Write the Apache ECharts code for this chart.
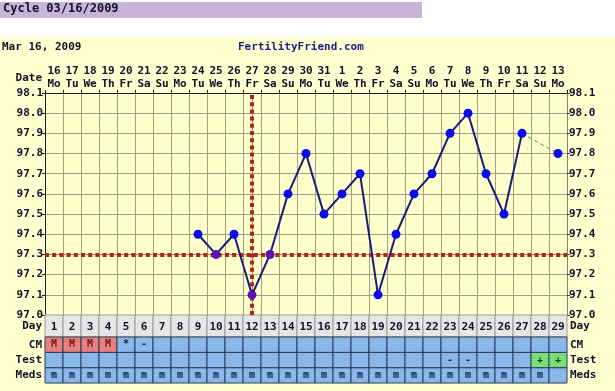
<!DOCTYPE html>
<html><head><meta charset="utf-8">
<script src="https://cdn.jsdelivr.net/npm/echarts@6/dist/echarts.min.js"></script>
<style>html,body{margin:0;padding:0;background:#fff}#c{width:615px;height:391px}</style>
</head><body><div id="c"></div>
<script>
const dayNums = ['1','2','3','4','5','6','7','8','9','10','11','12','13','14','15','16','17','18','19','20','21','22','23','24','25','26','27','28','29'];
const dates = ['16','17','18','19','20','21','22','23','24','25','26','27','28','29','30','31','1','2','3','4','5','6','7','8','9','10','11','12','13'];
const weekdays = ['Mo','Tu','We','Th','Fr','Sa','Su','Mo','Tu','We','Th','Fr','Sa','Su','Mo','Tu','We','Th','Fr','Sa','Su','Mo','Tu','We','Th','Fr','Sa','Su','Mo'];
const temps = [null,null,null,null,null,null,null,null,97.4,97.3,97.4,97.1,97.3,97.6,97.8,97.5,97.6,97.7,97.1,97.4,97.6,97.7,97.9,98.0,97.7,97.5,97.9,null,97.8];
const yTicks = ['97.0','97.1','97.2','97.3','97.4','97.5','97.6','97.7','97.8','97.9','98.0','98.1'];
const coverline = 97.3;
const ovulationDay = 12;
const cm   = ['M','M','M','M','*','-','','','','','','','','','','','','','','','','','','','','','','',''];
const test = ['','','','','','','','','','','','','','','','','','','','','','','-','-','','','','+','+'];
const meds = ['m','m','m','m','m','m','m','m','m','m','m','m','m','m','m','m','m','m','m','m','m','m','m','m','m','m','m','m',''];
const rowNames = ['Meds','Test','CM'];

const FONT = '"DejaVu Sans Mono", monospace';
const TXT = '#101028';

const mainData = temps.map((v, i) => {
  if (v === null) return null;
  const onLine = Math.abs(v - coverline) < 1e-6 || (i + 1) === ovulationDay;
  return { value: v, itemStyle: { color: onLine ? '#5a14b4' : '#0a0ae8' } };
});
let lastIdx = temps.length - 1, prevIdx = lastIdx - 1;
while (prevIdx >= 0 && temps[prevIdx] === null) prevIdx--;
const dashData = temps.map((v, i) => (i === lastIdx || i === prevIdx) ? v : null);
const solidData = mainData.map((d, i) => i === lastIdx ? null : d);
const lonePoint = temps.map((v, i) => i === lastIdx ? { value: v, itemStyle: { color: '#0a0ae8' } } : null);

const tableData = [];
const rows = [meds, test, cm];
rows.forEach((r, y) => r.forEach((t, x) => tableData.push([x, y, t])));
const dayData = dayNums.map((d, x) => [x, 0, d]);

function cellColor(y, t) {
  if (y === 2 && t === 'M') return '#e88080';
  if (y === 1 && t === '+') return '#78e078';
  return '#8ab8e8';
}
function textColor(y, t) {
  if (y === 2 && t === 'M') return '#701010';
  if (y === 1 && t === '+') return '#104010';
  return '#102050';
}

const thinRed = { color: '#e07060', width: 1, type: 'solid' };
const dotRed = { color: '#a8281c', width: 4, type: [4, 3.2] };

const axisLbl = { color: TXT, fontSize: 11, fontFamily: FONT, fontWeight: 'bold' };
const chart = echarts.init(document.getElementById('c'), null, { renderer: 'canvas' });
chart.setOption({
  backgroundColor: '#ffffff',
  animation: false,
  textStyle: { fontFamily: FONT, fontWeight: 'bold' },
  graphic: [
    { type: 'rect', z: -10, shape: { x: 0, y: 37, width: 615, height: 354 }, style: { fill: '#ffffd0' } },
    { type: 'rect', z: -10, shape: { x: 0, y: 2, width: 422, height: 16 }, style: { fill: '#c8b4d6' } },
    { type: 'text', left: 3, top: 3, style: { text: 'Cycle 03/16/2009', font: 'bold 12px ' + FONT, fill: '#101028' } },
    { type: 'text', left: 2, top: 42, style: { text: 'Mar 16, 2009', font: 'bold 11px ' + FONT, fill: TXT } },
    { type: 'text', left: 238, top: 42, style: { text: 'FertilityFriend.com', font: 'bold 11px ' + FONT, fill: '#1c1c8c' } },
    { type: 'text', x: 42, y: 78, style: { text: 'Date', font: 'bold 11px ' + FONT, fill: TXT, align: 'right', verticalAlign: 'middle' } }
  ],
  grid: [
    { left: 45, top: 93, width: 522, height: 222, show: true, backgroundColor: '#ffffcc', borderWidth: 0 },
    { left: 45, top: 315, width: 522, height: 22 },
    { left: 45, top: 337, width: 522, height: 46 }
  ],
  xAxis: [
    { gridIndex: 0, type: 'category', data: dayNums, position: 'top', boundaryGap: true,
      axisLine: { show: true, lineStyle: { color: '#202020' } },
      axisTick: { show: true, length: 3, lineStyle: { color: '#202020' } },
      splitLine: { show: true, lineStyle: { color: '#a0a088', width: 1 } },
      axisLabel: Object.assign({ interval: 0, margin: 2, lineHeight: 13, formatter: (v, i) => dates[i] + '\n' + weekdays[i] }, axisLbl) },
    { gridIndex: 1, type: 'category', data: dayNums, boundaryGap: true, show: false },
    { gridIndex: 2, type: 'category', data: dayNums, boundaryGap: true, show: false }
  ],
  yAxis: [
    { gridIndex: 0, type: 'value', min: 97.0, max: 98.1, interval: 0.1, position: 'left',
      axisLine: { show: true, lineStyle: { color: '#202020' } },
      axisTick: { show: true, length: 3, lineStyle: { color: '#202020' } },
      splitLine: { show: true, lineStyle: { color: '#a0a088', width: 1 } },
      axisLabel: Object.assign({ margin: 2, formatter: (v) => yTicks[Math.round((v - 97) * 10)] }, axisLbl) },
    { gridIndex: 0, type: 'value', min: 97.0, max: 98.1, interval: 0.1, position: 'right',
      axisLine: { show: true, lineStyle: { color: '#808070' } },
      axisTick: { show: true, length: 3, lineStyle: { color: '#404040' } }, splitLine: { show: false },
      axisLabel: Object.assign({ margin: 2, formatter: (v) => yTicks[Math.round((v - 97) * 10)] }, axisLbl) },
    { gridIndex: 1, type: 'category', data: ['Day'], position: 'left', axisLine: { show: false }, axisTick: { show: false },
      axisLabel: Object.assign({ margin: 3 }, axisLbl) },
    { gridIndex: 1, type: 'category', data: ['Day'], position: 'right', axisLine: { show: false }, axisTick: { show: false },
      axisLabel: Object.assign({ margin: 3 }, axisLbl) },
    { gridIndex: 2, type: 'category', data: rowNames, position: 'left', axisLine: { show: false }, axisTick: { show: false },
      axisLabel: Object.assign({ margin: 3 }, axisLbl) },
    { gridIndex: 2, type: 'category', data: rowNames, position: 'right', axisLine: { show: false }, axisTick: { show: false },
      axisLabel: Object.assign({ margin: 3 }, axisLbl) }
  ],
  series: [
    { type: 'line', xAxisIndex: 0, yAxisIndex: 0, data: dashData, connectNulls: true, symbol: 'none', z: 3,
      lineStyle: { color: '#3c9a3c', width: 1, type: [4, 3] } },
    { type: 'line', xAxisIndex: 0, yAxisIndex: 0, data: solidData, connectNulls: false, symbol: 'circle', symbolSize: 9, z: 5,
      lineStyle: { color: '#1a1a78', width: 2 }, itemStyle: { color: '#0a0ae8' },
      markLine: { silent: true, symbol: 'none', label: { show: false }, z: 4,
        data: [
          { yAxis: coverline, lineStyle: thinRed },
          { xAxis: ovulationDay - 1, lineStyle: thinRed },
          { yAxis: coverline, lineStyle: dotRed },
          { xAxis: ovulationDay - 1, lineStyle: dotRed }
        ] } },
    { type: 'line', xAxisIndex: 0, yAxisIndex: 0, data: lonePoint, symbol: 'circle', symbolSize: 9, z: 6, showSymbol: true,
      lineStyle: { width: 0 }, itemStyle: { color: '#0a0ae8' } },
    { type: 'custom', xAxisIndex: 1, yAxisIndex: 2, data: dayData,
      renderItem: (params, api) => {
        const p = api.coord([api.value(0), api.value(1)]);
        const s = api.size([1, 1]);
        return { type: 'group', children: [
          { type: 'rect', shape: { x: p[0] - s[0] / 2, y: p[1] - s[1] / 2, width: s[0], height: s[1] },
            style: { fill: '#e6e6e6', stroke: '#9a9a9a', lineWidth: 1 } },
          { type: 'text', style: { x: p[0], y: p[1] + 1, text: dayNums[params.dataIndex], align: 'center', verticalAlign: 'middle',
            font: 'bold 11px ' + FONT, fill: TXT } }
        ] };
      } },
    { type: 'custom', xAxisIndex: 2, yAxisIndex: 4, data: tableData,
      renderItem: (params, api) => {
        const d = tableData[params.dataIndex];
        const p = api.coord([d[0], d[1]]);
        const s = api.size([1, 1]);
        return { type: 'group', children: [
          { type: 'rect', shape: { x: p[0] - s[0] / 2, y: p[1] - s[1] / 2, width: s[0], height: s[1] },
            style: { fill: cellColor(d[1], d[2]), stroke: '#2a3a5a', lineWidth: 1 } },
          { type: 'text', style: { x: p[0], y: p[1], text: d[2], align: 'center', verticalAlign: 'middle',
            font: 'bold 10px ' + FONT, fill: textColor(d[1], d[2]) } }
        ] };
      } }
  ]
});
</script></body></html>
